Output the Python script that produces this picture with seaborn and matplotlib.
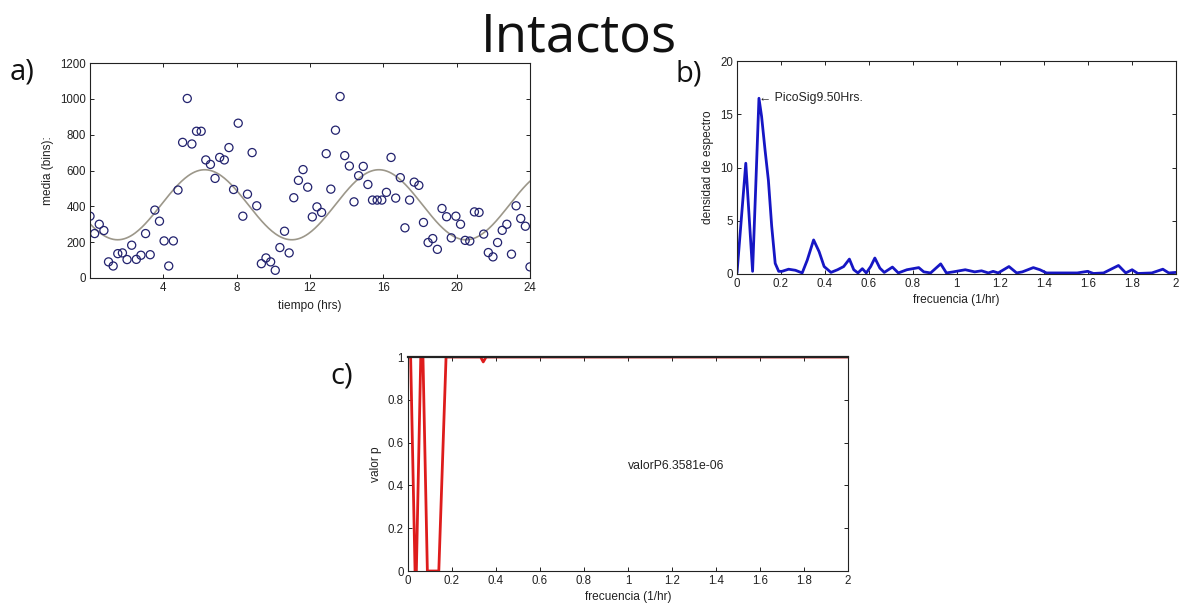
import numpy as np
import pandas as pd
import matplotlib
matplotlib.use("Agg")
import matplotlib.pyplot as plt
import seaborn as sns

# ---- panel a: hourly activity means (96 samples over 24 h) ----
tiempo_hrs = np.linspace(0, 24, 96)
media_bins = [
    345, 248, 300, 265, 90, 67, 136, 140, 103, 183, 104, 127,
    248, 130, 379, 317, 207, 67, 207, 491, 757, 1002, 748, 819,
    819, 659, 634, 556, 673, 659, 728, 494, 864, 345, 468, 700,
    403, 80, 112, 90, 43, 170, 261, 140, 448, 545, 605, 507,
    341, 397, 366, 694, 496, 825, 1013, 683, 625, 425, 571, 623,
    522, 435, 435, 435, 478, 673, 446, 560, 280, 435, 535, 517,
    310, 198, 220, 160, 388, 342, 224, 345, 300, 210, 206, 369,
    366, 245, 142, 118, 198, 266, 300, 133, 403, 332, 289, 62,
]
periodo_sig = 9.50  # hours, significant peak of the spectrum

# ---- panel b: spectral density ----
frec_b = [0.0, 0.04, 0.071, 0.085, 0.10, 0.112, 0.128, 0.143, 0.158, 0.174,
          0.19, 0.205, 0.235, 0.266, 0.297, 0.32, 0.349, 0.374, 0.397, 0.428,
          0.458, 0.486, 0.512, 0.532, 0.551, 0.571, 0.589, 0.609, 0.628, 0.651,
          0.671, 0.708, 0.735, 0.774, 0.828, 0.851, 0.882, 0.928, 0.954, 0.985,
          1.04, 1.083, 1.114, 1.145, 1.167, 1.19, 1.239, 1.274, 1.30, 1.35,
          1.38, 1.41, 1.495, 1.55, 1.597, 1.624, 1.67, 1.738, 1.771, 1.80,
          1.826, 1.89, 1.94, 1.967, 2.0]
densidad = [0.1, 10.4, 0.25, 8.0, 16.5, 14.8, 11.6, 8.8, 4.5, 1.0,
            0.25, 0.25, 0.45, 0.35, 0.1, 1.3, 3.2, 2.1, 0.7, 0.15,
            0.4, 0.7, 1.4, 0.4, 0.1, 0.5, 0.1, 0.7, 1.5, 0.55,
            0.15, 0.65, 0.1, 0.4, 0.6, 0.2, 0.1, 0.95, 0.1, 0.2,
            0.4, 0.2, 0.3, 0.1, 0.25, 0.1, 0.7, 0.1, 0.2, 0.6,
            0.4, 0.1, 0.1, 0.1, 0.25, 0.05, 0.1, 0.8, 0.1, 0.4,
            0.05, 0.1, 0.45, 0.1, 0.15]
pico_frec, pico_dens = 0.10, 16.5
etiqueta_pico = "\u2190 PicoSig9.50Hrs."

# ---- panel c: p-values ----
frec_c = [0.0, 0.012, 0.032, 0.038, 0.058, 0.068, 0.088, 0.10, 0.14, 0.173,
          0.2, 0.33, 0.342, 0.355, 0.6, 1.0, 1.5, 2.0]
valor_p = [1.0, 1.0, 0.0, 0.0, 1.0, 1.0, 0.0, 0.0, 0.0, 1.0,
           1.0, 1.0, 0.977, 1.0, 1.0, 1.0, 1.0, 1.0]
etiqueta_p = "valorP6.3581e-06"

sns.set_theme(style="ticks")
plt.rcParams["font.family"] = ["Liberation Sans", "DejaVu Sans"]
plt.rcParams.update({
    "xtick.direction": "in", "ytick.direction": "in",
    "xtick.top": True, "ytick.right": True,
    "xtick.major.size": 3, "ytick.major.size": 3,
    "xtick.major.width": 0.7, "ytick.major.width": 0.7,
    "axes.linewidth": 0.8, "axes.edgecolor": "#222222",
    "xtick.color": "#222222", "ytick.color": "#222222",
    "xtick.labelsize": 8.3, "ytick.labelsize": 8.3,
    "axes.labelsize": 8.6, "axes.labelcolor": "#222222",
    "xtick.major.pad": 3, "ytick.major.pad": 3,
})

W, H = 1179, 604
fig = plt.figure(figsize=(W / 100, H / 100), dpi=100)


def axes_px(left, top, right, bottom):
    return fig.add_axes([left / W, 1 - bottom / H, (right - left) / W, (bottom - top) / H])


# ---- a) scatter with cosinor fit ----
ax_a = axes_px(90, 63, 530, 278)
df_a = pd.DataFrame({"t": tiempo_hrs, "m": media_bins})
sns.scatterplot(data=df_a, x="t", y="m", ax=ax_a, marker="o", s=34,
                facecolor="none", edgecolor="#22226e", linewidth=0.9, zorder=3)

w = 2 * np.pi / periodo_sig
X = np.column_stack([np.ones_like(tiempo_hrs), np.cos(w * tiempo_hrs), np.sin(w * tiempo_hrs)])
coef, *_ = np.linalg.lstsq(X, np.asarray(media_bins, float), rcond=None)
t_fit = np.linspace(0, 24, 400)
y_fit = coef[0] + coef[1] * np.cos(w * t_fit) + coef[2] * np.sin(w * t_fit)
sns.lineplot(x=t_fit, y=y_fit, ax=ax_a, color="#9c978a", linewidth=1.2, zorder=2)
ax_a.set_xlim(0, 24)
ax_a.set_ylim(0, 1200)
ax_a.set_xticks([4, 8, 12, 16, 20, 24])
ax_a.set_yticks(range(0, 1201, 200))
ax_a.set_xlabel("tiempo (hrs)", labelpad=4)
ax_a.set_ylabel("media (bins):", labelpad=4)

# ---- b) spectrum ----
ax_b = axes_px(737, 61, 1176, 274)
sns.lineplot(x=frec_b, y=densidad, ax=ax_b, color="#1616c4", linewidth=2.0)
ax_b.text(pico_frec, pico_dens, etiqueta_pico, ha="left", va="center",
          fontsize=8.8, color="#222222")
ax_b.set_xlim(0, 2)
ax_b.set_ylim(0, 20)
xt = np.round(np.arange(0, 2.01, 0.2), 1)
ax_b.set_xticks(xt)
ax_b.set_xticklabels([f"{v:g}" for v in xt])
ax_b.set_yticks([0, 5, 10, 15, 20])
ax_b.set_xlabel("frecuencia (1/hr)", labelpad=3)
ax_b.set_ylabel("densidad de espectro", labelpad=4)

# ---- c) p-values ----
ax_c = axes_px(408, 357, 848, 571)
sns.lineplot(x=frec_c, y=valor_p, ax=ax_c, color="#de1c1c", linewidth=2.0, zorder=1)
ax_c.text(1.0, 0.49, etiqueta_p, ha="left", va="center", fontsize=8.8, color="#222222")
ax_c.set_xlim(0, 2)
ax_c.set_ylim(0, 1)
ax_c.set_xticks(xt)
ax_c.set_xticklabels([f"{v:g}" for v in xt])
yt = np.round(np.arange(0, 1.01, 0.2), 1)
ax_c.set_yticks(yt)
ax_c.set_yticklabels([f"{v:g}" for v in yt])
ax_c.set_xlabel("frecuencia (1/hr)", labelpad=3)
ax_c.set_ylabel("valor p", labelpad=4)
ax_c.spines["top"].set_linewidth(1.6)

for ax in (ax_a, ax_b, ax_c):
    for s in ax.spines.values():
        s.set_zorder(5)

# ---- title and panel letters ----
fig.text(579 / W, 1 - 52 / H, "Intactos", ha="center", va="baseline",
         fontsize=38, family="Open Sans", color="#111111")
for letra, x, y in (("a)", 10, 79), ("b)", 676, 82), ("c)", 330, 383)):
    fig.text(x / W, 1 - y / H, letra, ha="left", va="baseline",
             fontsize=21, family="Open Sans", color="#111111")

fig.savefig("out.png", dpi=100, facecolor="white")
